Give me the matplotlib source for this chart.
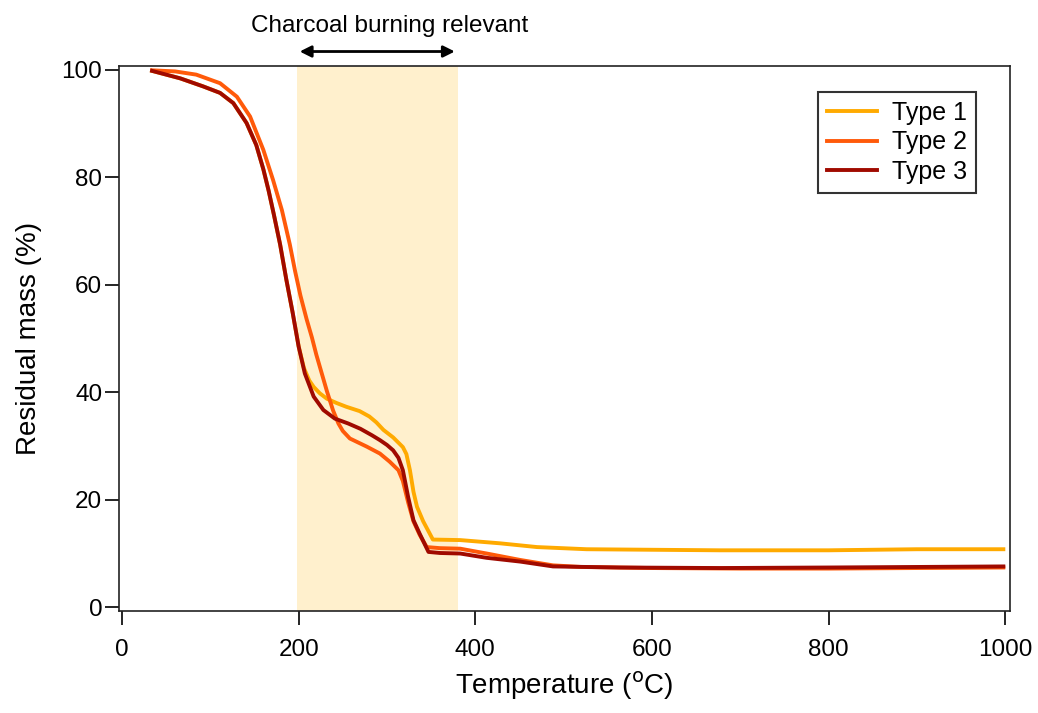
import numpy as np
import matplotlib.pyplot as plt

plt.rcParams['font.family'] = ['Liberation Sans', 'DejaVu Sans']

# Type 1
t1 = [34, 66, 92, 111, 126, 141, 152, 160, 166, 172, 179, 186, 193, 200, 206, 212, 217, 224,
      232, 243, 254, 269, 280, 288, 296, 307, 318, 322, 326, 330, 334, 341, 352, 383, 428, 470,
      526, 600, 677, 800, 900, 998]
m1 = [99.8, 98.4, 96.9, 95.7, 93.8, 90.1, 86, 81.5, 77.5, 73, 67.5, 61, 55, 48.5, 44.5, 42.2, 41.0, 39.8,
      38.8, 38.0, 37.3, 36.5, 35.5, 34.4, 33.0, 31.6, 29.8, 28.5, 25.5, 21.5, 18.7, 16.0, 12.6, 12.5, 11.9, 11.2,
      10.8, 10.7, 10.6, 10.6, 10.8, 10.8]

# Type 2
t2 = [34, 60, 84, 111, 130, 145, 160, 171, 181, 190, 196, 202, 209, 215, 220, 226, 232, 239, 245,
      250, 258, 277, 292, 303, 313, 318, 324, 330, 337, 345, 360, 383, 413, 451, 488, 520, 600,
      700, 800, 900, 998]
m2 = [99.9, 99.7, 99.1, 97.5, 95.0, 91.3, 85.1, 79.5, 73.9, 67.5, 62.5, 58, 53.6, 50.2, 47.0, 43.6, 40.2, 36.6, 34.2,
      32.8, 31.4, 29.9, 28.6, 27.1, 25.5, 23.5, 19.5, 16.0, 13.5, 11.2, 11.0, 10.9, 10.0, 8.8, 7.8, 7.5, 7.3,
      7.2, 7.2, 7.3, 7.4]

# Type 3
t3 = [34, 66, 92, 111, 126, 141, 152, 160, 166, 172, 179, 186, 193, 200, 207, 217, 228, 241, 256,
      270, 283, 292, 300, 307, 313, 318, 324, 330, 337, 342, 347, 360, 383, 413, 451, 488, 564,
      677, 800, 900, 998]
m3 = [99.8, 98.4, 96.9, 95.7, 93.8, 90.1, 86, 81.5, 77.5, 73, 67.5, 61, 55, 48.5, 43.5, 39.2, 36.7, 35.1, 34.2,
      33.2, 32.0, 31.1, 30.2, 29.2, 27.8, 25.5, 20.5, 16.2, 13.7, 12.0, 10.3, 10.1, 10.0, 9.2, 8.5, 7.6, 7.4,
      7.3, 7.4, 7.5, 7.6]

labels = ['Type 1', 'Type 2', 'Type 3']
colors = ['#FFAA00', '#FF5A0A', '#A00A00']

fig = plt.figure(figsize=(10.38, 7.13), dpi=100)
ax = fig.add_axes([0.1146, 0.143, 0.8584, 0.7644])

ax.axvspan(198, 380, color='#FFF0CD', lw=0, zorder=0)

ax.plot(t1, m1, color=colors[0], lw=2.8, label=labels[0], zorder=2, solid_joinstyle='round')
ax.plot(t2, m2, color=colors[1], lw=2.8, label=labels[1], zorder=3, solid_joinstyle='round')
ax.plot(t3, m3, color=colors[2], lw=2.8, label=labels[2], zorder=4, solid_joinstyle='round')

ax.set_xlim(-3.5, 1005.5)
ax.set_ylim(-0.7, 100.7)
ax.set_xticks([0, 200, 400, 600, 800, 1000])
ax.set_yticks([0, 20, 40, 60, 80, 100])
ax.tick_params(direction='out', length=10, width=1.2, labelsize=17.5)
ax.tick_params(axis='x', pad=10)
ax.tick_params(axis='y', pad=2)
for s in ax.spines.values():
    s.set_color('#222222')
    s.set_linewidth(1.2)

ax.set_xlabel('Temperature ($^{\\mathrm{o}}$C)', fontsize=20, labelpad=6)
ax.set_ylabel('Residual mass (%)', fontsize=20, labelpad=14)

ax.annotate('', xy=(198, 103.4), xytext=(380, 103.4), xycoords='data',
            arrowprops=dict(arrowstyle='<|-|>', color='black', lw=2, mutation_scale=17),
            annotation_clip=False)
ax.text(303, 108.2, 'Charcoal burning relevant', ha='center', va='center', fontsize=17.5,
        clip_on=False)

leg = ax.legend(loc='upper right', bbox_to_anchor=(0.962, 0.952), fontsize=18, frameon=True,
                fancybox=False, edgecolor='black', handlelength=2.0, borderpad=0.35,
                labelspacing=0.22, handletextpad=0.6, borderaxespad=0)
leg.get_frame().set_linewidth(1.5)

fig.savefig('out.png', dpi=100)
